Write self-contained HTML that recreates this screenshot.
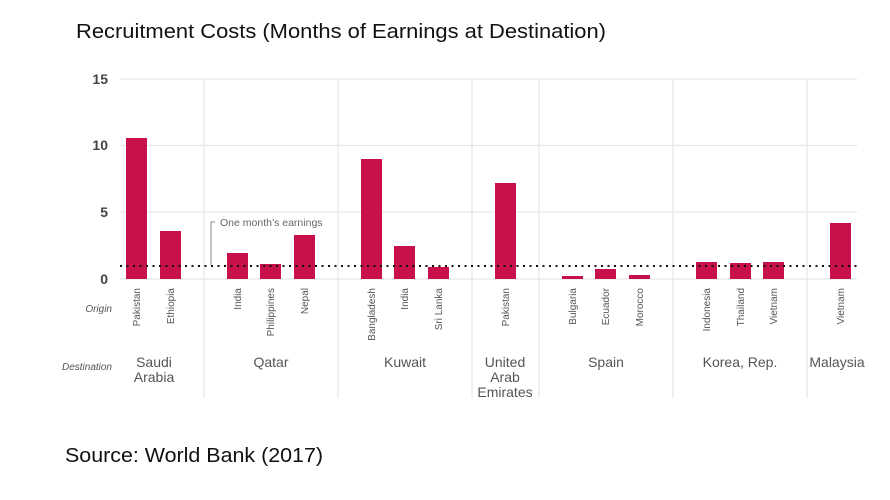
<!DOCTYPE html>
<html><head><meta charset="utf-8"><style>
html,body{margin:0;padding:0;background:#fff;}
svg{display:block;}
</style></head><body>
<svg width="890" height="500" viewBox="0 0 890 500" xmlns="http://www.w3.org/2000/svg" font-family="Liberation Sans, sans-serif">
<rect width="890" height="500" fill="#fff"/>
<text x="76" y="38" font-size="20" fill="#111" textLength="530" lengthAdjust="spacingAndGlyphs">Recruitment Costs (Months of Earnings at Destination)</text>
<g stroke="#e6e6e6" stroke-width="1.2">
<line x1="120" y1="79" x2="857" y2="79"/>
<line x1="120" y1="145.5" x2="857" y2="145.5"/>
<line x1="120" y1="212" x2="857" y2="212"/>
<line x1="120" y1="279" x2="857" y2="279"/>
<line x1="204" y1="79" x2="204" y2="398"/>
<line x1="338" y1="79" x2="338" y2="398"/>
<line x1="472" y1="79" x2="472" y2="398"/>
<line x1="539" y1="79" x2="539" y2="398"/>
<line x1="673" y1="79" x2="673" y2="398"/>
<line x1="807" y1="79" x2="807" y2="398"/>
</g>
<g font-size="14" font-weight="bold" fill="#444" text-anchor="end">
<text x="108" y="84">15</text>
<text x="108" y="150">10</text>
<text x="108" y="217">5</text>
<text x="108" y="284">0</text>
</g>
<g fill="#c8104a">
<rect x="126" y="138" width="21" height="141"/>
<rect x="160" y="231" width="21" height="48"/>
<rect x="227" y="253" width="21" height="26"/>
<rect x="260" y="264" width="21" height="15"/>
<rect x="294" y="235" width="21" height="44"/>
<rect x="361" y="159" width="21" height="120"/>
<rect x="394" y="246" width="21" height="33"/>
<rect x="428" y="267" width="21" height="12"/>
<rect x="495" y="183" width="21" height="96"/>
<rect x="562" y="276" width="21" height="3"/>
<rect x="595" y="269" width="21" height="10"/>
<rect x="629" y="275" width="21" height="4"/>
<rect x="696" y="262" width="21" height="17"/>
<rect x="730" y="263" width="21" height="16"/>
<rect x="763" y="262" width="21" height="17"/>
<rect x="830" y="223" width="21" height="56"/>
</g>
<line x1="120" y1="266" x2="860" y2="266" stroke="#111" stroke-width="2" stroke-dasharray="2,4.5"/>
<polyline points="211,265 211,222 215,222" fill="none" stroke="#888" stroke-width="1"/>
<text x="220" y="226" font-size="10.5" fill="#666">One month’s earnings</text>
<text x="112" y="312" font-size="10" font-style="italic" fill="#555" text-anchor="end">Origin</text>
<text x="112" y="370" font-size="10" font-style="italic" fill="#555" text-anchor="end">Destination</text>
<g font-size="10" fill="#555" text-anchor="end">
<text transform="translate(140,288) rotate(-90)">Pakistan</text>
<text transform="translate(174,288) rotate(-90)">Ethiopia</text>
<text transform="translate(241,288) rotate(-90)">India</text>
<text transform="translate(274,288) rotate(-90)">Philippines</text>
<text transform="translate(308,288) rotate(-90)">Nepal</text>
<text transform="translate(375,288) rotate(-90)">Bangladesh</text>
<text transform="translate(408,288) rotate(-90)">India</text>
<text transform="translate(442,288) rotate(-90)">Sri Lanka</text>
<text transform="translate(509,288) rotate(-90)">Pakistan</text>
<text transform="translate(576,288) rotate(-90)">Bulgaria</text>
<text transform="translate(609,288) rotate(-90)">Ecuador</text>
<text transform="translate(643,288) rotate(-90)">Morocco</text>
<text transform="translate(710,288) rotate(-90)">Indonesia</text>
<text transform="translate(744,288) rotate(-90)">Thailand</text>
<text transform="translate(777,288) rotate(-90)">Vietnam</text>
<text transform="translate(844,288) rotate(-90)">Vietnam</text>
</g>
<g font-size="14" fill="#555" text-anchor="middle">
<text x="154" y="367">Saudi</text>
<text x="154" y="382">Arabia</text>
<text x="271" y="367">Qatar</text>
<text x="405" y="367">Kuwait</text>
<text x="505" y="367">United</text>
<text x="505" y="382">Arab</text>
<text x="505" y="397">Emirates</text>
<text x="606" y="367">Spain</text>
<text x="740" y="367">Korea, Rep.</text>
<text x="837" y="367">Malaysia</text>
</g>
<text x="65" y="462" font-size="20" fill="#111" textLength="258" lengthAdjust="spacingAndGlyphs">Source: World Bank (2017)</text>
</svg>
</body></html>
